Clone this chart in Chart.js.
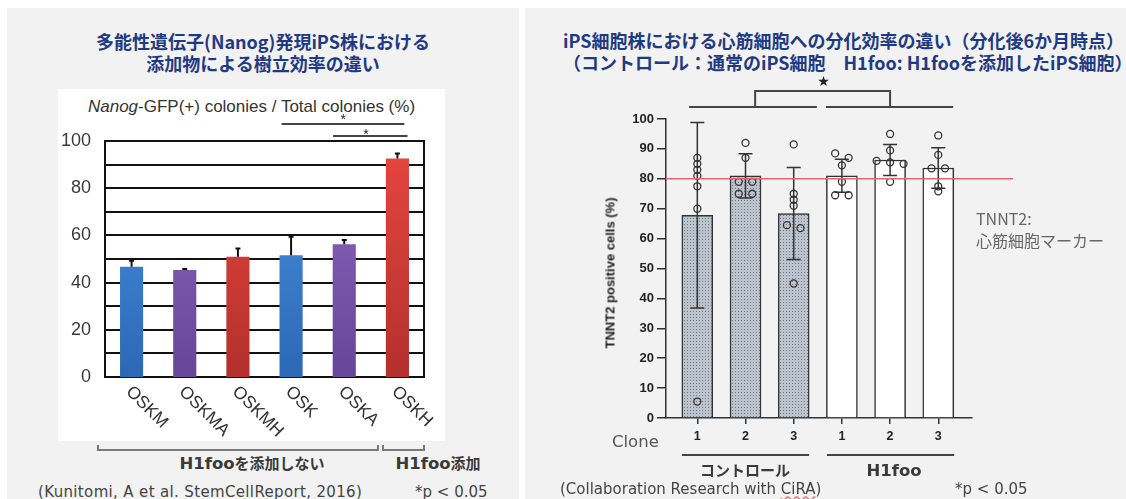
<!DOCTYPE html>
<html>
<head>
<meta charset="utf-8">
<script src="https://cdn.jsdelivr.net/npm/chart.js@4.4.1/dist/chart.umd.min.js"></script>
<style>
  body { margin: 0; width: 1126px; height: 499px; background: #fff; position: relative; overflow: hidden; font-family: "DejaVu Sans", sans-serif; }
  .abs { position: absolute; white-space: nowrap; }
  .panel { position: absolute; background: #f2f2f2; }
  .title { position: absolute; color: #1f3a84; font-family: "Noto Sans CJK JP", sans-serif; font-weight: 700; font-size: 18px; line-height: 22px; white-space: nowrap; }
  .grp { position: absolute; font-family: "Noto Sans CJK JP", sans-serif; font-weight: 700; font-size: 15px; color: #3a3a3a; white-space: nowrap; transform: translateX(-50%); }
  .grp b { font: bold 16.5px "DejaVu Sans", sans-serif; }
  .foot { position: absolute; font: 15px "DejaVu Sans", sans-serif; color: #444; white-space: nowrap; }
  .brk { position: absolute; border: 2px solid #7a7a7a; border-top: none; height: 4px; }
  canvas { position: absolute; }
</style>
</head>
<body>
<div class="panel" style="left:7px;top:8px;width:512px;height:491px"></div>
<div class="panel" style="left:525px;top:8px;width:601px;height:491px"></div>

<div class="title" style="left:7px;top:30px;width:512px;text-align:center">多能性遺伝子(Nanog)発現iPS株における<br>添加物による樹立効率の違い</div>
<div class="title" style="left:563px;top:29px">iPS細胞株における心筋細胞への分化効率の違い（分化後6か月時点）<br>（コントロール：通常のiPS細胞&emsp;H1foo: H1fooを添加したiPS細胞）</div>

<div class="abs" style="left:58px;top:89px;width:387px;height:352px;background:#fff"></div>
<div class="abs" style="left:58px;top:97px;width:387px;text-align:center;font:17px 'Liberation Sans',Arial,sans-serif;color:#333"><i>Nanog</i>-GFP(+) colonies / Total colonies (%)</div>
<canvas id="c1" width="387" height="352" style="left:58px;top:89px"></canvas>

<div class="brk" style="left:97px;top:445px;width:278px"></div>
<div class="brk" style="left:382px;top:445px;width:39px"></div>
<div class="grp" style="left:252px;top:452px"><b>H1foo</b>を添加しない</div>
<div class="grp" style="left:438px;top:452px"><b>H1foo</b>添加</div>
<div class="foot" style="left:38px;top:483px;letter-spacing:0.35px">(Kunitomi, A et al. StemCellReport, 2016)</div>
<div class="foot" style="left:415px;top:483px">*p &lt; 0.05</div>

<canvas id="c2" width="480" height="395" style="left:560px;top:70px"></canvas>
<div class="abs" style="left:610px;top:273px;transform:translate(-50%,-50%) rotate(-90deg);font:bold 13px 'Liberation Sans',Arial,sans-serif;color:#222">TNNT2 positive cells (%)</div>
<div class="abs" style="left:612px;top:432px;font:16.5px 'DejaVu Sans',sans-serif;color:#555">Clone</div>
<div class="grp" style="left:745px;top:459px">コントロール</div>
<div class="grp" style="left:894px;top:459px"><b>H1foo</b></div>
<div class="abs" style="left:976px;top:207px;font:16px 'Noto Sans CJK JP',sans-serif;color:#666;line-height:22px">TNNT2:<br>心筋細胞マーカー</div>
<div class="foot" style="left:560px;top:480px">(Collaboration Research with <span style="text-decoration:underline wavy #e07878">CiRA</span>)</div>
<div class="foot" style="left:955px;top:480px">*p &lt; 0.05</div>

<script>
// left chart: reprogramming efficiency
const factors = ['OSKM', 'OSKMA', 'OSKMH', 'OSK', 'OSKA', 'OSKH'];
const nanogRatio = [46.7, 45.3, 51.0, 51.6, 56.3, 92.6];
const nanogErr = [2.6, 0.5, 3.5, 7.8, 1.7, 2.1];
const leftTicks = [0, 20, 40, 60, 80, 100];
const leftGrid = [0, 10, 20, 30, 40, 50, 60, 70, 80, 90, 100];

// right chart: cardiomyocyte differentiation
const clones = ['1', '2', '3', '1', '2', '3'];
const tnnt2Mean = [67.8, 81.0, 68.4, 81.0, 86.3, 83.6];
const tnnt2Sd = [31.0, 7.4, 15.4, 5.5, 5.2, 6.8];
const tnnt2Points = [
  [87, 85, 83, 81, 77.5, 70, 5.5],
  [92, 87, 79, 79, 75, 75],
  [91.5, 75, 73, 71, 64.5, 63.5, 45],
  [88.5, 87, 84.5, 79, 74.5, 74.5],
  [95, 89.5, 86, 85.5, 85, 79],
  [94.5, 88, 83.5, 83.5, 77.5, 75.8]
];
const rightTicks = [0, 10, 20, 30, 40, 50, 60, 70, 80, 90, 100];
const markerLevel = 80;

const shades = { blue: ['#4b93e4', '#2c68b4'], purple: ['#9167c4', '#664696'], red: ['#e7463f', '#b3302c'] };
const barShade = ['blue', 'purple', 'red', 'blue', 'purple', 'red'];

function shade(ctx) {
  const c = shades[barShade[ctx.dataIndex]];
  const a = ctx.chart.chartArea;
  if (!a) return c[0];
  const g = ctx.chart.ctx.createLinearGradient(0, a.top, 0, a.bottom);
  g.addColorStop(0, c[0]);
  g.addColorStop(1, c[1]);
  return g;
}

const leftDeco = {
  id: 'leftDeco',
  beforeDatasetsDraw(chart) {
    const { ctx, chartArea: a, scales: { y } } = chart;
    ctx.save();
    ctx.strokeStyle = '#111';
    ctx.lineWidth = 2;
    ctx.beginPath();
    leftGrid.forEach(v => {
      const yy = Math.round(y.getPixelForValue(v));
      ctx.moveTo(a.left, yy); ctx.lineTo(a.right, yy);
    });
    ctx.moveTo(a.right, a.top - 1); ctx.lineTo(a.right, a.bottom + 1);
    ctx.stroke();
    ctx.restore();
  },
  afterDatasetsDraw(chart) {
    const { ctx, chartArea: a, scales: { x, y } } = chart;
    ctx.save();
    ctx.strokeStyle = '#111';
    ctx.lineWidth = 2;
    nanogRatio.forEach((v, i) => {
      const px = x.getPixelForValue(i), y0 = y.getPixelForValue(v), y1 = y.getPixelForValue(v + nanogErr[i]);
      ctx.beginPath();
      ctx.moveTo(px, y0); ctx.lineTo(px, y1);
      ctx.moveTo(px - 2.5, y1); ctx.lineTo(px + 2.5, y1);
      ctx.stroke();
    });

    ctx.fillStyle = '#333';
    ctx.font = '17.5px "Liberation Sans", Arial, sans-serif';
    ctx.textAlign = 'left';
    ctx.textBaseline = 'middle';
    factors.forEach((t, i) => {
      ctx.save();
      ctx.translate(x.getPixelForValue(i) - 3, a.bottom + 12);
      ctx.rotate(Math.PI / 4);
      ctx.fillText(t, 0, 0);
      ctx.restore();
    });

    // significance lines
    ctx.strokeStyle = '#444';
    ctx.lineWidth = 2;
    const bar = (i0, i1, v) => {
      const yy = y.getPixelForValue(v);
      ctx.beginPath(); ctx.moveTo(x.getPixelForValue(i0), yy); ctx.lineTo(x.getPixelForValue(i1), yy); ctx.stroke();
    };
    bar(2.82, 5.13, 107.2);
    bar(3.79, 5.19, 102.1);
    ctx.fillStyle = '#222';
    ctx.font = '14px "Liberation Sans", Arial, sans-serif';
    ctx.textAlign = 'center';
    ctx.textBaseline = 'alphabetic';
    ctx.fillText('*', x.getPixelForValue(3.98), y.getPixelForValue(110.6) + 8);
    ctx.fillText('*', x.getPixelForValue(4.41), y.getPixelForValue(104.2) + 8);
    ctx.restore();
  }
};

new Chart(document.getElementById('c1'), {
  type: 'bar',
  data: {
    labels: factors,
    datasets: [{ data: nanogRatio, backgroundColor: shade, borderWidth: 0, barPercentage: 0.435, categoryPercentage: 1 }]
  },
  options: {
    responsive: false,
    animation: false,
    layout: { padding: { top: 52, right: 21, left: 0, bottom: 0 } },
    plugins: { legend: { display: false }, tooltip: { enabled: false } },
    scales: {
      x: {
        grid: { display: false },
        border: { display: true, color: '#111', width: 2 },
        ticks: { display: false },
        afterFit(s) { s.height = 64; }
      },
      y: {
        min: 0, max: 100,
        afterFit(s) { s.width = 47; },
        afterBuildTicks(s) { s.ticks = leftTicks.map(v => ({ value: v })); },
        ticks: { font: { family: 'Liberation Sans', size: 18 }, color: '#3a3a3a', padding: 6 },
        grid: { display: false },
        border: { display: true, color: '#111', width: 2 }
      }
    }
  },
  plugins: [leftDeco]
});

// spread near-equal points side by side
function spread(vals) {
  const out = vals.map(() => 0);
  const order = vals.map((v, i) => i).sort((a, b) => vals[b] - vals[a]);
  let group = [order[0]];
  const flush = () => {
    const n = group.length;
    group.forEach((k, j) => { out[k] = (j - (n - 1) / 2) * 0.28; });
  };
  for (let j = 1; j < order.length; j++) {
    if (vals[group[group.length - 1]] - vals[order[j]] < 1.6) group.push(order[j]);
    else { flush(); group = [order[j]]; }
  }
  flush();
  return out;
}

const tile = document.createElement('canvas');
tile.width = tile.height = 3;
const tg = tile.getContext('2d');
tg.fillStyle = '#bcc5ce'; tg.fillRect(0, 0, 3, 3);
tg.fillStyle = '#6c7886'; tg.fillRect(1, 1, 1, 1);
const hatch = document.getElementById('c2').getContext('2d').createPattern(tile, 'repeat');

const scatterPts = [];
tnnt2Points.forEach((vals, i) => {
  const off = spread(vals);
  vals.forEach((v, j) => scatterPts.push({ x: i + 1 + off[j], y: v }));
});

const rightDeco = {
  id: 'rightDeco',
  afterDatasetsDraw(chart) {
    const { ctx, chartArea: a, scales: { x, y } } = chart;
    ctx.save();
    ctx.strokeStyle = '#333';
    ctx.lineWidth = 1.5;
    tnnt2Mean.forEach((m, i) => {
      const px = x.getPixelForValue(i + 1), t = y.getPixelForValue(m + tnnt2Sd[i]), b = y.getPixelForValue(m - tnnt2Sd[i]);
      ctx.beginPath();
      ctx.moveTo(px, t); ctx.lineTo(px, b);
      ctx.moveTo(px - 7, t); ctx.lineTo(px + 7, t);
      ctx.moveTo(px - 7, b); ctx.lineTo(px + 7, b);
      ctx.stroke();
    });

    const ym = y.getPixelForValue(markerLevel);
    ctx.strokeStyle = '#e8636f';
    ctx.beginPath(); ctx.moveTo(a.left, ym); ctx.lineTo(x.getPixelForValue(7.55), ym); ctx.stroke();

    ctx.strokeStyle = '#444';
    ctx.lineWidth = 2;
    const seg = (x0, x1, v) => {
      const yy = y.getPixelForValue(v);
      ctx.beginPath(); ctx.moveTo(x.getPixelForValue(x0), yy); ctx.lineTo(x.getPixelForValue(x1), yy); ctx.stroke();
    };
    seg(0.83, 3.48, 104);
    seg(3.67, 6.31, 104);
    seg(0.68, 3.32, -12.4);
    seg(3.69, 6.33, -12.4);
    const yb = y.getPixelForValue(104), yt = y.getPixelForValue(109.4);
    const xa = x.getPixelForValue(2.2), xb = x.getPixelForValue(5.0);
    ctx.beginPath(); ctx.moveTo(xa, yb); ctx.lineTo(xa, yt); ctx.lineTo(xb, yt); ctx.lineTo(xb, yb); ctx.stroke();
    ctx.fillStyle = '#222';
    ctx.font = 'bold 14px "DejaVu Sans", sans-serif';
    ctx.textAlign = 'center';
    ctx.textBaseline = 'middle';
    ctx.fillText('★', x.getPixelForValue(3.62), y.getPixelForValue(112.4));
    ctx.restore();
  }
};

new Chart(document.getElementById('c2'), {
  type: 'bar',
  data: {
    datasets: [
      {
        type: 'scatter', data: scatterPts, order: 0,
        pointRadius: 3.5, pointBorderWidth: 1.3, pointBorderColor: '#333', pointBackgroundColor: 'rgba(0,0,0,0)'
      },
      {
        data: tnnt2Mean.map((m, i) => ({ x: i + 1, y: m })), order: 1,
        backgroundColor: tnnt2Mean.map((m, i) => i < 3 ? hatch : '#ffffff'),
        borderColor: '#333', borderWidth: 1.5, barThickness: 31, borderSkipped: 'bottom'
      }
    ]
  },
  options: {
    responsive: false,
    animation: false,
    layout: { padding: { top: 49, right: 68, left: 0, bottom: 0 } },
    plugins: { legend: { display: false }, tooltip: { enabled: false } },
    scales: {
      x: {
        type: 'linear', min: 0.35, max: 6.7, offset: false,
        afterBuildTicks(s) { s.ticks = [1, 2, 3, 4, 5, 6].map(v => ({ value: v })); },
        afterFit(s) { s.height = 47; },
        ticks: { callback: v => clones[v - 1], font: { family: 'Liberation Sans', size: 12.5, weight: 'bold' }, color: '#222', padding: 5, maxRotation: 0 },
        grid: { drawOnChartArea: false, offset: false, tickLength: 6, color: '#333', lineWidth: 1.5 },
        border: { color: '#333', width: 1.5 }
      },
      y: {
        min: 0, max: 100,
        afterBuildTicks(s) { s.ticks = rightTicks.map(v => ({ value: v })); },
        afterFit(s) { s.width = 106; },
        ticks: { font: { family: 'Liberation Sans', size: 13, weight: 'bold' }, color: '#222', padding: 3 },
        grid: { drawOnChartArea: false, tickLength: 9, color: '#333', lineWidth: 1.5 },
        border: { color: '#333', width: 1.5 }
      }
    }
  },
  plugins: [rightDeco]
});
</script>
</body>
</html>
